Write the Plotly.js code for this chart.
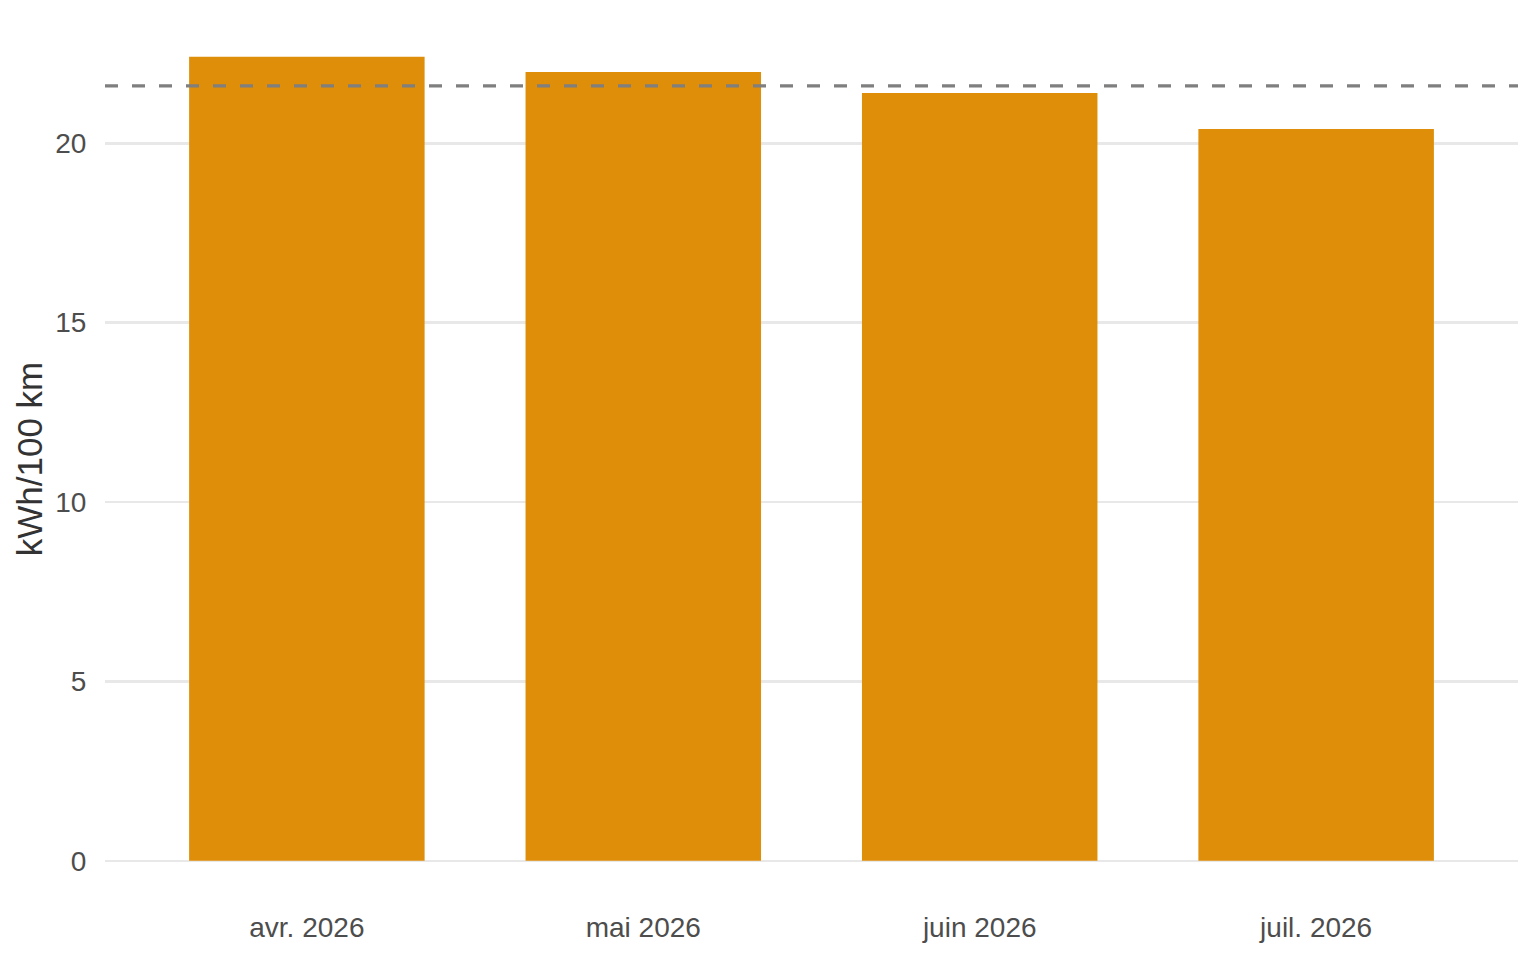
<!DOCTYPE html>
<html>
<head>
<meta charset="utf-8">
<script src="https://cdn.plot.ly/plotly-3.0.1.min.js"></script>
<style>
html, body { margin: 0; padding: 0; background: #ffffff; }
#chart { width: 1536px; height: 960px; }
</style>
</head>
<body>
<div id="chart"></div>
<script>
const months = ["avr. 2026", "mai 2026", "juin 2026", "juil. 2026"];
const consumption = [22.41, 21.99, 21.40, 20.40];
const referenceLine = 21.6;
const yTickValues = [0, 5, 10, 15, 20];
const yTickLabels = ["0", "5", "10", "15", "20"];

const FONT = "Liberation Sans, Arial, Helvetica, sans-serif";

const traces = [{
  type: "bar",
  x: months,
  y: consumption,
  width: 0.7,
  marker: { color: "#DF8E0A", line: { width: 0 } },
  hoverinfo: "x+y"
}];

const layout = {
  width: 1536,
  height: 960,
  margin: { l: 105, r: 18, t: 17, b: 59 },
  paper_bgcolor: "#ffffff",
  plot_bgcolor: "#ffffff",
  showlegend: false,
  font: { family: FONT, color: "#4D4D4D", size: 28 },
  xaxis: {
    type: "category",
    range: [-0.6, 3.6],
    showgrid: false,
    zeroline: false,
    showline: false,
    ticks: "outside",
    ticklen: 1,
    tickcolor: "rgba(0,0,0,0)",
    tickfont: { family: FONT, size: 28, color: "#4D4D4D" }
  },
  yaxis: {
    range: [-1.12, 23.52],
    tickvals: yTickValues,
    ticktext: yTickLabels,
    showgrid: true,
    gridcolor: "#E8E8E8",
    gridwidth: 2.6,
    zeroline: false,
    showline: false,
    ticks: "outside",
    ticklen: 12,
    tickcolor: "rgba(0,0,0,0)",
    tickfont: { family: FONT, size: 28, color: "#4D4D4D" },
    title: {
      text: "kWh/100 km",
      font: { family: FONT, size: 35, color: "#333333" },
      standoff: 1
    }
  },
  shapes: [{
    type: "line",
    xref: "paper",
    yref: "y",
    x0: 0,
    x1: 1,
    y0: referenceLine,
    y1: referenceLine,
    line: { color: "#7F7F7F", width: 3.2, dash: "13px,14px" },
    layer: "above"
  }]
};

Plotly.newPlot("chart", traces, layout, { displayModeBar: false, staticPlot: true });
</script>
</body>
</html>
